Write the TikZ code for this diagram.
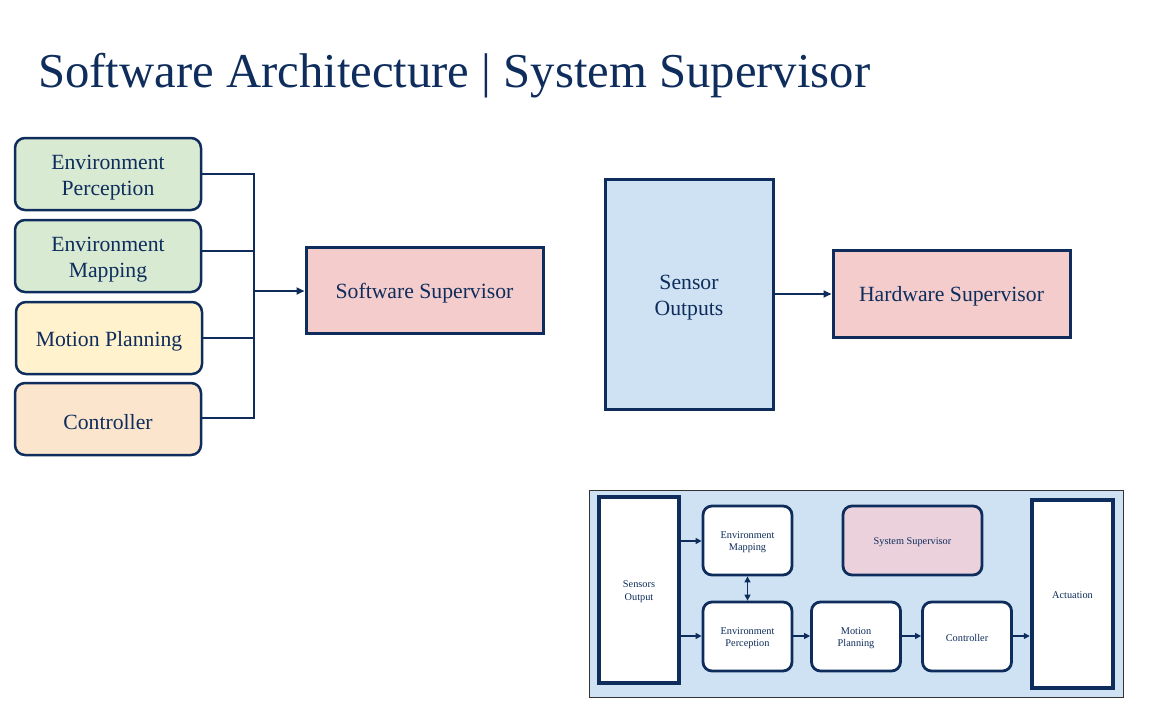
\documentclass[tikz,border=0pt]{standalone}
\usepackage{fontspec}
\setmainfont{Liberation Serif}
\usetikzlibrary{arrows.meta}
\definecolor{navy}{RGB}{14,45,92}
\definecolor{fgreen}{HTML}{D9EAD3}
\definecolor{fyellow}{HTML}{FFF2CC}
\definecolor{forange}{HTML}{FCE5CD}
\definecolor{fpink}{HTML}{F4CCCC}
\definecolor{fblue}{HTML}{CFE2F3}
\definecolor{fmauve}{HTML}{EAD1DC}
\newcommand\mybstrut{\rule{0pt}{21pt}}
\newcommand\mysstrut{\rule{0pt}{10pt}}
\tikzset{
  bigtxt/.style={font=\fontsize{21.7}{26}\selectfont, text=navy, align=center},
  smalltxt/.style={font=\fontsize{10.3}{12.5}\selectfont, text=navy, align=center},
  leftbox/.style={draw=navy, line width=2.5pt, rounded corners=10pt, minimum width=186pt, minimum height=72pt, inner sep=0pt, bigtxt},
  sqbox/.style={draw=navy, line width=3pt, inner sep=0pt, bigtxt},
  insetbox/.style={draw=navy, line width=2.8pt, rounded corners=9pt, fill=white, minimum width=89pt, minimum height=69pt, inner sep=0pt, smalltxt},
  tallbox/.style={draw=navy, line width=4.5pt, fill=white, inner sep=0pt, smalltxt},
  busline/.style={draw=navy, line width=2pt},
  bigarrow/.style={draw=navy, line width=2.2pt, -{Triangle[length=8pt,width=7pt]}},
  smallarrow/.style={draw=navy, line width=1.3pt, -{Triangle[length=6pt,width=6pt]}},
  smallarrows/.style={draw=navy, line width=1.3pt, {Triangle[length=6pt,width=6pt]}-{Triangle[length=6pt,width=6pt]}},
}
\begin{document}
\begin{tikzpicture}[x=1pt,y=-1pt]
\useasboundingbox (0,0) rectangle (1159,709);
\node[anchor=base west, inner sep=0pt, text=navy, font=\fontsize{48.7}{58}\selectfont] (title) at (38,88) {Software Architecture | System Supervisor};

% left boxes
\node[leftbox, fill=fgreen] (ep) at (108,174) {\mybstrut Environment\\Perception};
\node[leftbox, fill=fgreen] (em) at (108,256) {\mybstrut Environment\\Mapping};
\node[leftbox, fill=fyellow] (mp) at (109,338) {\mybstrut Motion Planning};
\node[leftbox, fill=forange] (ct) at (108,419) {\mybstrut Controller};
\node[sqbox, fill=fpink, minimum width=237pt, minimum height=86pt] (ss) at (424.5,290) {\mybstrut Software Supervisor};

\coordinate (bustop) at (254,174);
\coordinate (busbot) at (254,418);
\coordinate (busmid) at (254,291);
\draw[busline] (ep.east |- 0,174) -- (bustop) -- (busbot) -- (ct.east |- 0,418);
\draw[busline] (em.east |- 0,251) -- (254,251);
\draw[busline] (mp.east |- 0,338) -- (254,338);
\draw[bigarrow] (busmid) -- (ss.west |- busmid);

% sensor outputs / hardware supervisor
\node[sqbox, fill=fblue, minimum width=168pt, minimum height=230pt] (so) at (689,294) {\mybstrut Sensor\\Outputs};
\node[sqbox, fill=fpink, minimum width=237pt, minimum height=87pt] (hs) at (951.5,293.5) {\mybstrut Hardware Supervisor};
\draw[bigarrow] (so.east |- 0,294) -- (hs.west |- 0,294);

% inset
\node[draw=black!80, line width=0.8pt, fill=fblue, minimum width=534pt, minimum height=207pt, inner sep=0pt] (inset) at (856,593.5) {};
\node[tallbox, minimum width=80pt, minimum height=186pt] (iso) at (639,590) {\mysstrut Sensors\\Output};
\node[tallbox, minimum width=81pt, minimum height=188pt] (iac) at (1072.5,594) {\mysstrut Actuation};
\node[insetbox] (iem) at (747.5,540.5) {\mysstrut Environment\\Mapping};
\node[insetbox, fill=fmauve, minimum width=139pt] (isv) at (912.5,540.5) {\mysstrut System Supervisor};
\node[insetbox] (iep) at (747.5,636.5) {\mysstrut Environment\\Perception};
\node[insetbox] (imp) at (856,636.5) {\mysstrut Motion\\Planning};
\node[insetbox] (ict) at (967,636.5) {\mysstrut Controller};

\draw[smallarrow] (iso.east |- 0,541) -- (iem.west |- 0,541);
\draw[smallarrow] (iso.east |- 0,636) -- (iep.west |- 0,636);
\draw[smallarrow] (iep.east |- 0,636) -- (imp.west |- 0,636);
\draw[smallarrow] (imp.east |- 0,636) -- (ict.west |- 0,636);
\draw[smallarrow] (ict.east |- 0,636) -- (iac.west |- 0,636);
\draw[smallarrows] (iem.south) -- (iep.north);
\end{tikzpicture}
\end{document}
